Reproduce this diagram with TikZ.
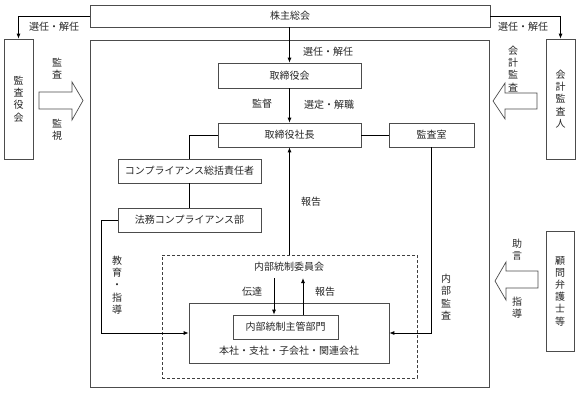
\documentclass[tikz,border=0pt]{standalone}
\usepackage{fontspec}
\setmainfont{Noto Sans CJK JP}
\usetikzlibrary{arrows.meta}
\begin{document}
\begin{tikzpicture}[x=1pt,y=-1pt,
  every node/.style={font=\fontsize{10}{12.2}\selectfont, text=black!85},
  bx/.style={draw=black!70, line width=0.7pt, inner sep=0pt, align=center},
  dbx/.style={draw=black!75, line width=0.7pt, dashed, dash pattern=on 3pt off 2pt, inner sep=0pt},
  conn/.style={draw=black, line width=0.8pt},
  arr/.style={conn, -{Latex[length=5pt,width=4pt]}},
  fat/.style={draw=black!70, line width=0.7pt, fill=white},
  lbl/.style={inner sep=0pt, align=center}]
\useasboundingbox (0,0) rectangle (580,393);

% boxes
\node[bx, minimum width=400pt, minimum height=22pt] (kabu) at (290,16) {株主総会};
\node[bx, minimum width=399pt, minimum height=347pt] (big) at (289.5,213.5) {};
\node[bx, minimum width=29pt, minimum height=120pt] (kansa) at (18.5,99) {監\\査\\役\\会};
\node[bx, minimum width=29pt, minimum height=120pt] (kaikei) at (560.5,99) {会\\計\\監\\査\\人};
\node[bx, minimum width=28pt, minimum height=120pt] (komon) at (560,291) {顧\\問\\弁\\護\\士\\等};
\node[bx, minimum width=143pt, minimum height=25pt] (tori) at (289.5,75.5) {取締役会};
\node[bx, minimum width=143pt, minimum height=24pt] (shacho) at (289.5,135) {取締役社長};
\node[bx, minimum width=85pt, minimum height=24pt] (shitsu) at (431.5,135) {監査室};
\node[bx, minimum width=143pt, minimum height=24pt] (comp) at (189.5,171) {コンプライアンス総括責任者};
\node[bx, minimum width=143pt, minimum height=24pt] (houmu) at (189.5,220) {法務コンプライアンス部};
\node[dbx, minimum width=255pt, minimum height=123pt] (iinkai) at (289.5,316.5) {};
\node[lbl] (iinkaiT) at (289,267) {内部統制委員会};
\node[bx, minimum width=200pt, minimum height=60pt] (honsha) at (289,333) {};
\node[lbl] (honshaT) at (289,351) {本社・支社・子会社・関連会社};
\node[bx, minimum width=105pt, minimum height=24pt] (shukan) at (285.5,327) {内部統制主管部門};

% connectors
\draw[arr] (kabu.west) -| (kansa.north);
\draw[arr] (kabu.east) -| (kaikei.north);
\draw[arr] (tori.north |- kabu.south) -- (tori.north);
\draw[arr] (tori.south) -- (shacho.north);
\draw[conn] (shacho.east) -- (shitsu.west);
\draw[conn] (shacho.west) -| (comp.north);
\draw[conn] (comp.south) -- (houmu.north);
\draw[arr] (houmu.west) -- ++(-16,0) |- (honsha.west);
\draw[arr] (shitsu.south) |- (honsha.east);
\draw[arr] (iinkai.north) -- (shacho.south);
\coordinate (dtop) at (274,278);
\coordinate (htop) at (303,278);
\draw[arr] (dtop) -- (dtop |- shukan.north);
\draw[arr] (htop |- shukan.north) -- (htop);

% hollow arrows
\draw[fat] (39,92) -- (72,92) -- (72,82) -- (83,100.5) -- (72,120) -- (72,109) -- (39,109) -- cycle;
\draw[fat] (537,93) -- (505,93) -- (505,83) -- (493,101) -- (505,119) -- (505,109) -- (537,109) -- cycle;
\draw[fat] (538,271) -- (506,271) -- (506,262) -- (495,281) -- (506,300) -- (506,288) -- (538,288) -- cycle;

% labels
\node[lbl] (l1) at (54,27) {選任・解任};
\node[lbl] (l2) at (523,27) {選任・解任};
\node[lbl] (l3) at (328,52) {選任・解任};
\node[lbl] (l4) at (262,104) {監督};
\node[lbl] (l5) at (329,105) {選定・解職};
\node[lbl] (l6) at (57,69) {監\\査};
\node[lbl] (l7) at (57,130) {監\\視};
\node[lbl] (l8) at (513,69) {会\\計\\監\\査};
\node[lbl] (l9) at (517,250) {助\\言};
\node[lbl] (l10) at (517,308) {指\\導};
\node[lbl] (l11) at (446,297) {内\\部\\監\\査};
\node[lbl] (l12) at (117,285) {教\\育\\・\\指\\導};
\node[lbl] (l13) at (311,202) {報告};
\node[lbl] (l14) at (252,292) {伝達};
\node[lbl] (l15) at (325,292) {報告};
\end{tikzpicture}
\end{document}
